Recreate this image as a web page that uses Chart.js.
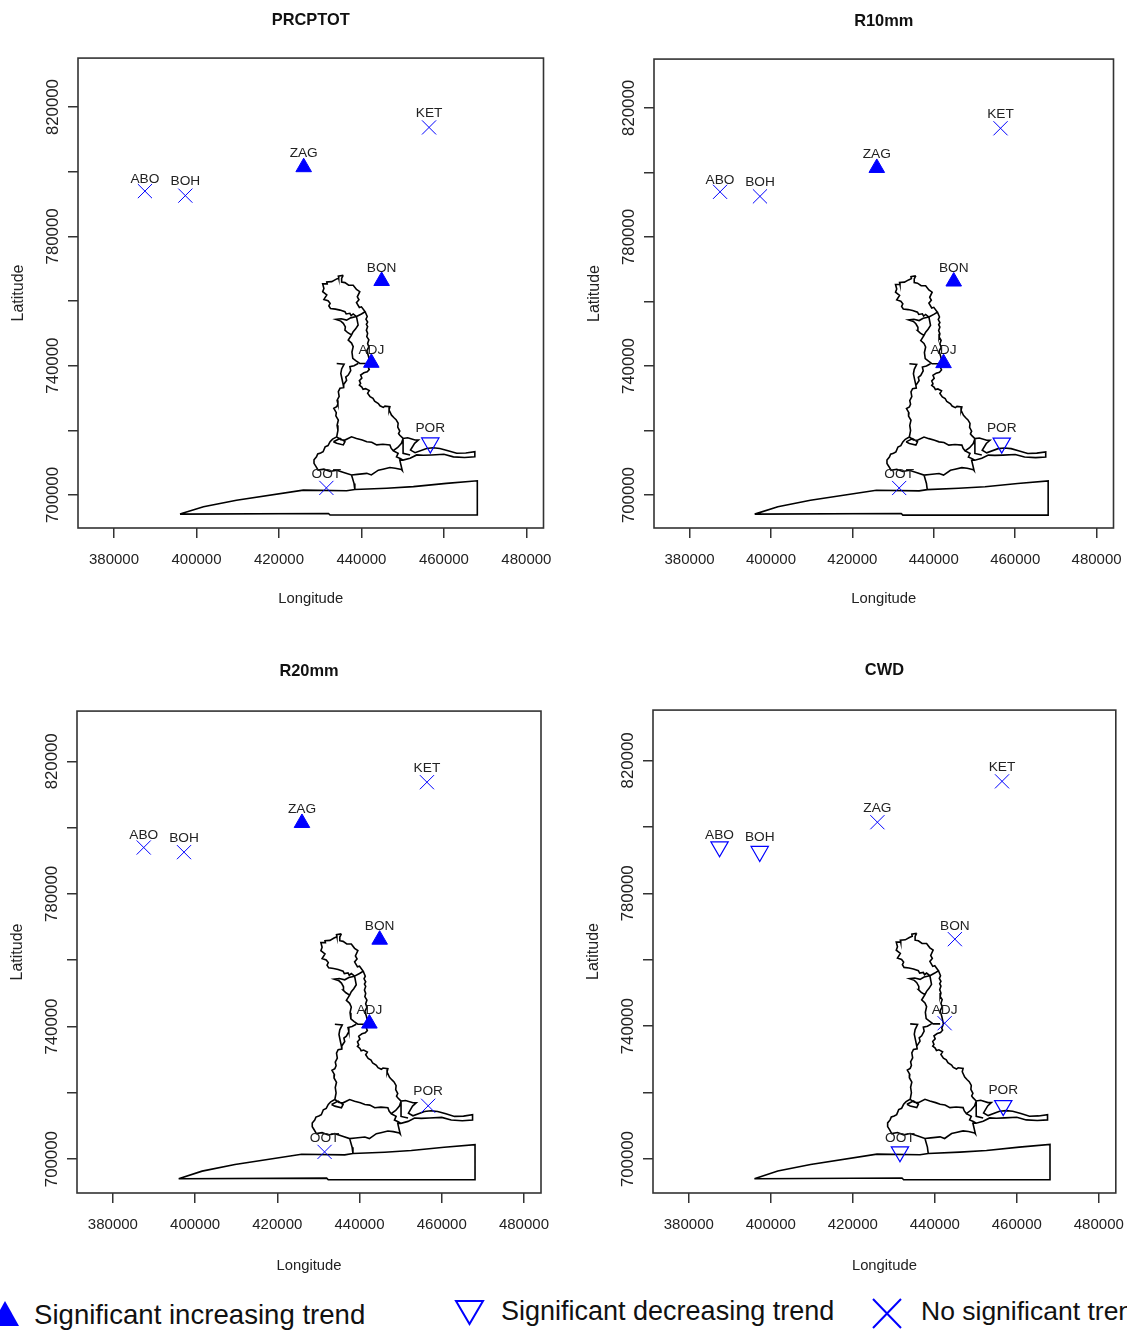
<!DOCTYPE html>
<html>
<head>
<meta charset="utf-8">
<title>Trend maps</title>
<script src="https://cdn.jsdelivr.net/npm/chart.js@4"></script>
<style>
html, body { margin: 0; padding: 0; background: #fff; }
body { position: relative; width: 1127px; height: 1331px; overflow: hidden; font-family: "Liberation Sans", Arial, sans-serif; }
canvas { position: absolute; }
.key { position: absolute; font-size: 27px; line-height: 32px; white-space: nowrap; color: #111; }
svg { position: absolute; left: 0; top: 1280px; }
</style>
</head>
<body>
<canvas id="panel1" width="563" height="640" style="left:0;top:0"></canvas>
<canvas id="panel2" width="564" height="640" style="left:563px;top:0"></canvas>
<canvas id="panel3" width="563" height="640" style="left:0;top:640px"></canvas>
<canvas id="panel4" width="564" height="640" style="left:563px;top:640px"></canvas>

<svg width="1127" height="51">
  <polygon points="5,21 19,46 -9,46" fill="#0000ff"/>
  <polygon points="456,21 483,21 469.5,44" fill="none" stroke="#0000ff" stroke-width="2"/>
  <path d="M873,19 L901,48 M901,19 L873,48" stroke="#0000ff" stroke-width="2" fill="none"/>
</svg>
<div class="key" style="left:34px;top:1299px;font-size:27.6px">Significant increasing trend</div>
<div class="key" style="left:501px;top:1295px">Significant decreasing trend</div>
<div class="key" style="left:921px;top:1295px;font-size:26.5px">No significant trend</div>

<script>
var stationNames = ["ABO", "BOH", "ZAG", "KET", "BON", "ADJ", "POR", "OOT"];
var stationLon = [387500, 397300, 426000, 456400, 444900, 442400, 456700, 431500];
var stationLat = [794000, 792600, 801400, 813700, 766200, 740900, 716100, 702200];

// up = significant increase, down = significant decrease, none = no trend
var trendPRCPTOT = ["none", "none", "up", "none", "up", "up", "down", "none"];
var trendR10mm = ["none", "none", "up", "none", "up", "up", "down", "none"];
var trendR20mm = ["none", "none", "up", "none", "up", "up", "none", "none"];
var trendCWD = ["down", "down", "none", "none", "none", "none", "down", "down"];

var xTicks = [380000, 400000, 420000, 440000, 460000, 480000];
var yTicks = [700000, 720000, 740000, 760000, 780000, 800000, 820000];
var yTickLabels = [700000, 740000, 780000, 820000];

// map lines, lon/lat pairs
var upperLobe = [[435600,768000],[434400,767700],[434500,767100],[433800,766700],[432800,766000],[431600,765900],[431700,765300],[430600,765300],[430900,763900],[430600,762900],[431600,761900],[430900,760500],[431900,760100],[432400,759300],[432100,758500],[432500,757700],[433700,757500],[434800,757200],[436000,756700],[436300,756000],[437200,756200],[437500,755500],[438000,756000],[438800,755200],[440000,756000],[440900,756700],[440000,758200],[439500,758000],[438800,759500],[439400,760400],[439000,761300],[439600,762900],[438800,763600],[438000,764900],[436900,764900],[436000,765700],[435200,765900],[435200,767000],[435600,768000]];
var eastEdge = [[440900,756700],[441400,755200],[441100,754400],[441500,753500],[441200,752800],[441500,752100],[441200,751000],[441500,750000],[441300,749000],[441800,748000],[441500,746900],[441800,745800],[441300,744600],[441700,743000],[442100,740700],[441700,739400],[441900,738800],[441400,738100],[440600,737800],[439800,737100],[440100,736200],[439500,735400],[439800,734500],[439500,734000],[440100,733400],[440400,732700],[441000,732900],[441900,732300],[441500,731500],[442100,730400],[442800,729900],[443200,729000],[444100,728300],[444500,727600],[445300,727100],[445700,727500],[446900,727300],[446700,726300],[447300,724700],[447900,723900],[448400,723300],[448900,722200],[448800,721000],[449300,719800],[449000,719000],[449300,718500],[450100,717500],[451200,717700],[453000,717000],[453800,717000],[452900,716000],[451900,713900],[453000,713100],[455800,714400],[457400,714600],[459000,714400],[461000,713700],[463100,712900],[465300,713000],[467500,713400],[467500,711800],[465000,711600],[462300,711800],[460000,712600],[457000,712400],[455000,712300],[453400,712400],[451800,711400],[450100,710800],[449400,711300],[448500,711800],[448900,712900],[447700,713700]];
var innerLoop = [[438800,755200],[439200,752600],[438600,751400],[438000,750500],[437600,749500],[436700,750200],[436000,751000],[436100,752000],[435600,753100],[435000,753800],[433800,754300],[435100,754500],[436400,754100],[437400,754800],[438800,755200]];
var midLine = [[437600,749500],[436800,747900],[437600,747000],[438000,745900],[437700,744200],[437900,742300],[438700,741500],[439600,740700],[441300,740700]];
var westEdge = [[439200,740700],[438200,740000],[437200,739700],[437400,738500],[436800,737100],[436200,736500],[436400,735500],[435600,734000],[435700,733200],[434800,733000],[434400,732000],[434600,730500],[434100,729300],[434300,728200],[434000,727300],[433300,726800],[433900,725500],[433800,724500],[434400,723200],[434100,721600],[434300,720000],[434000,718000],[433000,717300],[432400,716500],[431900,715300],[431200,714900],[430700,713400],[430100,713000],[429400,712700],[429100,711800],[428500,710900],[428500,709800],[429000,708800],[429500,707700],[430900,708000],[432400,707300],[434000,707700],[435700,707000],[437600,706200],[439000,706400],[441300,706700],[442400,706200],[444100,707700],[445200,708000],[446900,708500],[448200,708300],[449700,707900],[449900,707600],[449300,710800],[450100,710800]];
var branchLine = [[434000,740700],[435800,740500],[435200,739000],[435000,737600],[435300,735800],[435600,734000]];
var southTop = [[434000,718000],[435000,717100],[436000,717000],[437600,718000],[438800,717500],[440200,717000],[441300,716500],[442500,716300],[443700,715500],[445200,715700],[446900,715500],[447200,714500],[447700,713700],[448800,714700],[449700,716000],[450100,717500]];
var smallBox = [[433200,716500],[434800,717500],[436000,716500],[435600,715500],[434000,716000],[433200,716500]];
var eastStub = [[450100,717500],[450100,712900],[451800,712400]];
var seaBox = [[396000,694100],[401700,696400],[409700,698400],[425900,701500],[436400,701300],[438400,701700],[446100,702100],[452600,702600],[460600,703600],[468100,704400],[468100,693800],[432400,693800],[432000,694300],[396000,694100]];
var seaLink = [[437600,706200],[438200,703600],[438400,701700]];
var mapLines = [upperLobe, eastEdge, innerLoop, midLine, westEdge, branchLine, southTop, smallBox, eastStub, seaBox, seaLink];

var xMin = 371270, xMax = 484150, yMin = 689800, yMax = 835150;
var blue = "#0000ff";

// box around the plot, R style
var boxPlugin = {
    id: "plotBox",
    afterDraw: function(chart) {
        var a = chart.chartArea;
        var ctx = chart.ctx;
        ctx.save();
        ctx.strokeStyle = "#333";
        ctx.lineWidth = 1.6;
        ctx.strokeRect(a.left, a.top, a.right - a.left, a.bottom - a.top);
        ctx.restore();
    }
};

var labelLift = [12, 14, 14, 14, 13, 13, 15, 14];

var stationLabelPlugin = {
    id: "stationLabels",
    afterDatasetsDraw: function(chart) {
        var ctx = chart.ctx;
        ctx.save();
        ctx.font = "13.7px 'Liberation Sans'";
        ctx.fillStyle = "#222";
        ctx.textAlign = "center";
        ctx.textBaseline = "middle";
        stationNames.forEach(function(name, i) {
            var px = chart.scales.x.getPixelForValue(stationLon[i]);
            var py = chart.scales.y.getPixelForValue(stationLat[i]);
            ctx.fillText(name, px, py - labelLift[i]);
        });
        ctx.restore();
    }
};

function pointsFor(trend, kind) {
    var pts = [];
    trend.forEach(function(t, i) {
        if (t === kind) {
            pts.push({ x: stationLon[i], y: stationLat[i] });
        }
    });
    return pts;
}

function tickObjects(values) {
    return values.map(function(v) {
        return { value: v };
    });
}

// one long dataset, a null y breaks the line between map pieces
function mapData() {
    var pts = [];
    mapLines.forEach(function(line) {
        line.forEach(function(p) {
            pts.push({ x: p[0], y: p[1] });
        });
        pts.push({ x: null, y: null });
    });
    return pts;
}

function drawPanel(id, title, trend, box) {
    new Chart(document.getElementById(id), {
        type: "scatter",
        data: {
            datasets: [{
                label: "Map",
                data: mapData(),
                showLine: true,
                spanGaps: false,
                borderColor: "#000",
                borderWidth: 1.6,
                pointRadius: 0,
                order: 4
            }, {
                label: "Significant increasing trend",
                data: pointsFor(trend, "up"),
                pointStyle: "triangle",
                pointRadius: 9,
                backgroundColor: blue,
                borderColor: blue,
                borderWidth: 1,
                order: 1
            }, {
                label: "Significant decreasing trend",
                data: pointsFor(trend, "down"),
                pointStyle: "triangle",
                rotation: 180,
                pointRadius: 10,
                backgroundColor: "rgba(0,0,0,0)",
                borderColor: blue,
                borderWidth: 1.2,
                order: 2
            }, {
                label: "No significant trend",
                data: pointsFor(trend, "none"),
                pointStyle: "crossRot",
                pointRadius: 10,
                borderColor: blue,
                borderWidth: 1,
                order: 3
            }]
        },
        options: {
            responsive: false,
            animation: false,
            layout: { padding: { right: box.right } },
            plugins: {
                legend: { display: false },
                tooltip: { enabled: false },
                title: {
                    display: true,
                    text: title,
                    fullSize: false,
                    color: "#111",
                    font: { family: "'Liberation Sans'", size: 16.4, weight: "bold" },
                    padding: { top: box.top - box.titleGap - 9.8, bottom: box.titleGap - 9.8 }
                }
            },
            scales: {
                x: {
                    type: "linear",
                    min: xMin,
                    max: xMax,
                    afterBuildTicks: function(scale) { scale.ticks = tickObjects(xTicks); },
                    afterFit: function(scale) {
                        scale.height = box.bottom;
                        // labels may hang past the plot, they must not shrink it
                        scale.paddingLeft = 0;
                        scale.paddingRight = 0;
                    },
                    border: { display: false },
                    grid: { drawOnChartArea: false, tickLength: 10, color: "#333", lineWidth: 1.5 },
                    ticks: {
                        autoSkip: false,
                        maxRotation: 0,
                        padding: 13,
                        color: "#222",
                        font: { family: "'Liberation Sans'", size: 15 },
                        callback: function(value) { return String(value); }
                    },
                    title: {
                        display: true,
                        text: "Longitude",
                        color: "#222",
                        font: { family: "'Liberation Sans'", size: 14.8 },
                        padding: { top: 0, bottom: box.bottom - box.xTitle - 10 }
                    }
                },
                y: {
                    type: "linear",
                    min: yMin,
                    max: yMax,
                    afterBuildTicks: function(scale) { scale.ticks = tickObjects(yTicks); },
                    afterFit: function(scale) { scale.width = box.left; },
                    border: { display: false },
                    grid: { drawOnChartArea: false, tickLength: 10, color: "#333", lineWidth: 1.5 },
                    ticks: {
                        autoSkip: false,
                        minRotation: 90,
                        maxRotation: 90,
                        crossAlign: "center",
                        padding: -13,
                        color: "#222",
                        font: { family: "'Liberation Sans'", size: 16.8 },
                        callback: function(value) {
                            return yTickLabels.indexOf(value) >= 0 ? String(value) : "";
                        }
                    },
                    title: {
                        display: true,
                        text: "Latitude",
                        color: "#222",
                        font: { family: "'Liberation Sans'", size: 16 },
                        padding: { top: box.left - 61 - 7.6, bottom: 0 }
                    }
                }
            }
        },
        plugins: [boxPlugin, stationLabelPlugin]
    });
}

drawPanel("panel1", "PRCPTOT", trendPRCPTOT, { left: 78, top: 58, right: 19.5, bottom: 112, titleGap: 38, xTitle: 70 });
drawPanel("panel2", "R10mm", trendR10mm, { left: 91, top: 59, right: 13.5, bottom: 112, titleGap: 38, xTitle: 70 });
drawPanel("panel3", "R20mm", trendR20mm, { left: 77, top: 71, right: 22, bottom: 87, titleGap: 40, xTitle: 72 });
drawPanel("panel4", "CWD", trendCWD, { left: 90, top: 70, right: 11, bottom: 87, titleGap: 40, xTitle: 72 });
</script>
</body>
</html>
